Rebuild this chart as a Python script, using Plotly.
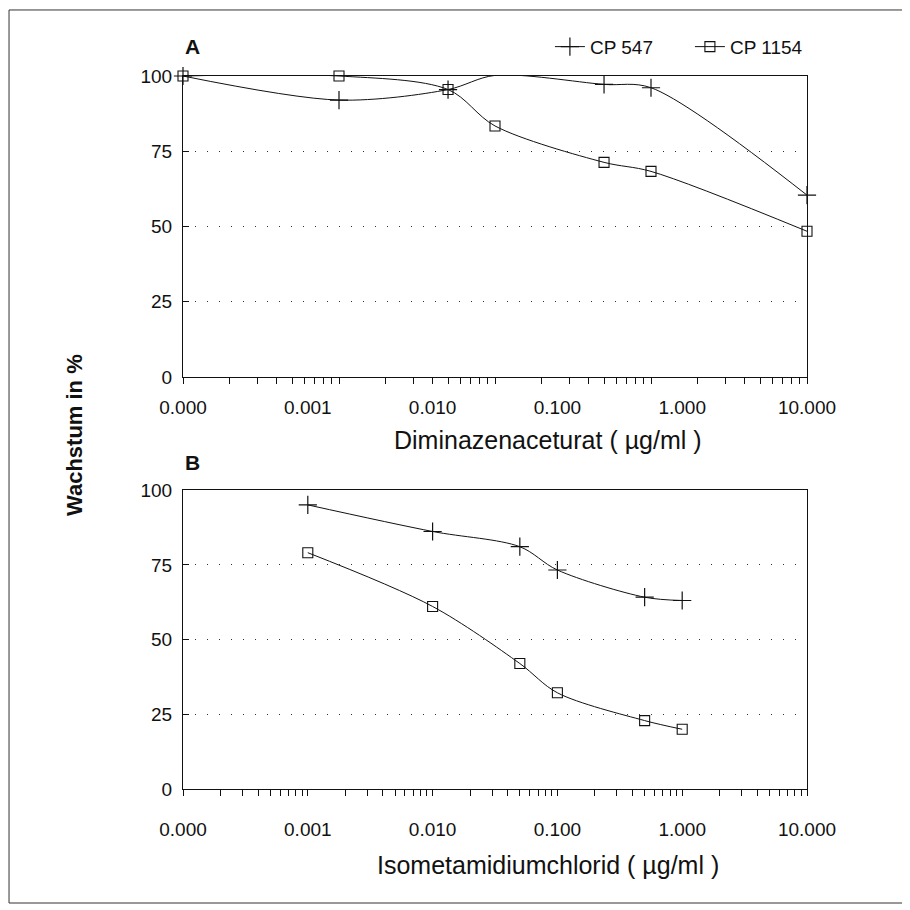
import plotly.graph_objects as go

# ---------------- data ----------------
conc_A = [0.001, 0.01, 0.05, 0.1, 0.5, 1, 10]
cp547_A = [100, 92, 95.5, 100.2, 97.2, 96.1, 60.4]
cp1154_A = [100, 100, 95.5, 83.4, 71.3, 68.3, 48.4]

conc_B = [0.001, 0.01, 0.05, 0.1, 0.5, 1]
cp547_B = [95.1, 86.2, 81.1, 73.3, 64.2, 63.1]
cp1154_B = [79.1, 61.1, 42.0, 32.2, 22.9, 20.0]

label_vals = [0.0001, 0.001, 0.01, 0.1, 1, 10]
tick_labels = ["0.000", "0.001", "0.010", "0.100", "1.000", "10.000"]
y_ticks = [0, 25, 50, 75, 100]

series_names = ["CP 547", "CP 1154"]

# ---------------- styling ----------------
FONT = "Liberation Sans, Arial, sans-serif"
BLACK = "#111111"

minor_A = [m * 10 ** e for e in range(-3, 1) for m in range(1, 10)] + [10]
minor_B = [m * 10 ** e for e in range(-4, 1) for m in range(1, 10)] + [10]

cross = dict(symbol="cross-thin", size=13, line=dict(width=1.2, color=BLACK), color=BLACK)
square = dict(symbol="square-open", size=10, line=dict(width=1.1, color=BLACK), color=BLACK)
line = dict(color=BLACK, width=1, shape="spline", smoothing=0.9)

fig = go.Figure()

# Panel A
fig.add_trace(go.Scatter(x=conc_A, y=cp547_A, mode="lines+markers", name=series_names[0],
                         line=line, marker=cross, xaxis="x", yaxis="y", cliponaxis=False))
fig.add_trace(go.Scatter(x=conc_A, y=cp1154_A, mode="lines+markers", name=series_names[1],
                         line=line, marker=square, xaxis="x", yaxis="y", cliponaxis=False))
# Panel B
fig.add_trace(go.Scatter(x=conc_B, y=cp547_B, mode="lines+markers", name=series_names[0],
                         line=line, marker=cross, xaxis="x2", yaxis="y2", showlegend=False,
                         cliponaxis=False))
fig.add_trace(go.Scatter(x=conc_B, y=cp1154_B, mode="lines+markers", name=series_names[1],
                         line=line, marker=square, xaxis="x2", yaxis="y2", showlegend=False,
                         cliponaxis=False))
# empty traces so the label axes are drawn
fig.add_trace(go.Scatter(x=[], y=[], xaxis="x3", yaxis="y", showlegend=False, hoverinfo="skip"))
fig.add_trace(go.Scatter(x=[], y=[], xaxis="x4", yaxis="y2", showlegend=False, hoverinfo="skip"))

tick_axis = dict(type="log", ticks="outside", ticklen=6, tickwidth=1, tickcolor=BLACK,
                 showticklabels=False, showline=True, linecolor=BLACK, linewidth=1,
                 mirror=True, showgrid=False, zeroline=False, domain=[0, 1])
label_axis = dict(type="log", range=[-4, 1], tickmode="array", tickvals=label_vals,
                  ticktext=tick_labels, ticks="", showline=False, showgrid=False,
                  zeroline=False, tickfont=dict(family=FONT, size=19, color=BLACK),
                  domain=[0, 1])
y_axis = dict(range=[0, 100], tickmode="array", tickvals=y_ticks, ticks="inside",
              ticklen=6, tickcolor=BLACK, showline=True, linecolor=BLACK, linewidth=1,
              mirror=True, showgrid=True, gridcolor="#333333", gridwidth=1,
              griddash="1px,11px", zeroline=False, ticklabelstandoff=6,
              tickfont=dict(family=FONT, size=19, color=BLACK))

fig.update_layout(
    width=902, height=902,
    margin=dict(l=175, r=103, t=68, b=121),
    paper_bgcolor="white", plot_bgcolor="white",
    font=dict(family=FONT, color=BLACK),
    xaxis=dict(tick_axis, range=[-3, 1], tickmode="array", tickvals=minor_A, anchor="y"),
    xaxis3=dict(label_axis, overlaying="x", anchor="y", side="bottom", ticklabelstandoff=17),
    yaxis=dict(y_axis, domain=[0.578, 1], anchor="x"),
    xaxis2=dict(tick_axis, range=[-4, 1], tickmode="array", tickvals=minor_B, anchor="y2"),
    xaxis4=dict(label_axis, overlaying="x2", anchor="y2", side="bottom", ticklabelstandoff=27),
    yaxis2=dict(y_axis, domain=[0, 0.419], anchor="x2"),
    showlegend=True,
    legend=dict(orientation="h", x=0.588, xanchor="left", y=1.041, yanchor="middle",
                font=dict(family=FONT, size=19, color=BLACK), bgcolor="rgba(0,0,0,0)",
                itemwidth=30, entrywidth=95, tracegroupgap=0),
    hovermode=False,
)

fig.add_annotation(text="<b>A</b>", x=0.0, y=1.041, xref="paper", yref="paper",
                   showarrow=False, xanchor="left", yanchor="middle",
                   font=dict(family=FONT, size=21, color=BLACK))
fig.add_annotation(text="<b>B</b>", x=0.0, y=0.4586, xref="paper", yref="paper",
                   showarrow=False, xanchor="left", yanchor="middle",
                   font=dict(family=FONT, size=21, color=BLACK))
fig.add_annotation(text="Diminazenaceturat ( µg/ml )", x=0.585, y=0.4895, xref="paper",
                   yref="paper", showarrow=False, xanchor="center", yanchor="middle",
                   font=dict(family=FONT, size=25, color=BLACK))
fig.add_annotation(text="Isometamidiumchlorid ( µg/ml )", x=0.585, y=-0.1066, xref="paper",
                   yref="paper", showarrow=False, xanchor="center", yanchor="middle",
                   font=dict(family=FONT, size=25, color=BLACK))
fig.add_annotation(text="<b>Wachstum in %</b>", x=-0.173, y=0.4965, xref="paper",
                   yref="paper", showarrow=False, xanchor="center", yanchor="middle",
                   textangle=-90, font=dict(family=FONT, size=22, color=BLACK))

# outer frame of the figure
fig.add_shape(type="rect", xref="paper", yref="paper", x0=-0.2788, x1=1.1538,
              y0=-0.1599, y1=1.0926, line=dict(color="#333333", width=1))

fig.write_html("out.html")
